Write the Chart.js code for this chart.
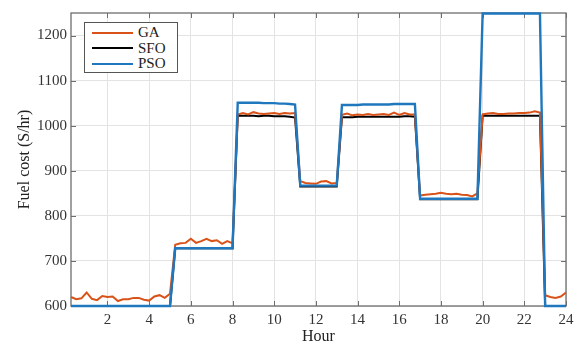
<!DOCTYPE html>
<html>
<head>
<meta charset="utf-8">
<script src="https://cdn.jsdelivr.net/npm/chart.js@4/dist/chart.umd.min.js"></script>
<style>
  body { margin: 0; background: #fff; }
  #wrap { position: relative; width: 586px; height: 347px; }
  #legend {
    position: absolute; left: 84px; top: 22px; width: 94px; height: 51px;
    border: 1px solid #555; background: #fff; box-sizing: border-box;
    font-family: "Liberation Serif", serif; font-size: 15px; color: #222;
    padding-top: 2px;
  }
  #legend .row { height: 15.5px; line-height: 15.5px; display: flex; align-items: center; }
  #legend .line { display: inline-block; width: 41px; height: 2px; margin-left: 7px; margin-right: 5px; }
</style>
</head>
<body>
<div id="wrap">
  <canvas id="fuelChart" width="586" height="347"></canvas>
  <div id="legend"></div>
</div>
<script>
// quarter-hour sampling, 0.25 .. 24
var hours = [];
for (var i = 1; i <= 96; i++) hours.push(i * 0.25);

var xTicks = [2, 4, 6, 8, 10, 12, 14, 16, 18, 20, 22, 24];
var yTicks = [600, 700, 800, 900, 1000, 1100, 1200];

var labels = ['GA', 'SFO', 'PSO'];
var colors = ['#D95319', '#000000', '#1f77bd'];

var gaCost = [
    620, 615, 617, 630, 616, 613, 622, 620, 621, 611, 615, 615, 618, 618, 614, 612, 621, 624, 618, 627,
    736, 739, 740, 749, 740, 744, 749, 744, 746, 738, 744, 739,
    1025, 1028, 1025, 1030, 1027, 1026, 1027, 1028, 1026, 1028, 1027, 1028,
    877, 873, 872, 871, 876, 877, 872, 873,
    1024, 1027, 1023, 1025, 1024, 1026, 1024, 1025, 1026, 1024, 1029, 1024, 1028, 1025, 1025,
    845, 847, 848, 849, 851, 849, 848, 849, 847, 846, 843, 850,
    1025, 1027, 1028, 1026, 1026, 1027, 1027, 1028, 1028, 1029, 1032, 1029,
    624, 620, 618, 621, 630
];
var sfoCost = [
    600, 600, 600, 600, 600, 600, 600, 600, 600, 600, 600, 600, 600, 600, 600, 600, 600, 600, 600, 600,
    728, 728, 728, 728, 728, 728, 728, 728, 728, 728, 728, 728,
    1022, 1022, 1022, 1022, 1021, 1022, 1022, 1021, 1021, 1021, 1020, 1018,
    865, 865, 865, 865, 865, 865, 865, 865,
    1019, 1019, 1019, 1020, 1020, 1020, 1020, 1020, 1020, 1020, 1020, 1020, 1021, 1021, 1020,
    837, 837, 837, 837, 837, 837, 837, 837, 837, 837, 837, 837,
    1022, 1022, 1022, 1022, 1022, 1022, 1022, 1022, 1022, 1022, 1022, 1022,
    600, 600, 600, 600, 600
];
var psoCost = [
    600, 600, 600, 600, 600, 600, 600, 600, 600, 600, 600, 600, 600, 600, 600, 600, 600, 600, 600, 600,
    728, 728, 728, 728, 728, 728, 728, 728, 728, 728, 728, 728,
    1051, 1051, 1051, 1051, 1051, 1050, 1050, 1050, 1049, 1049, 1048, 1047,
    867, 867, 867, 867, 867, 867, 867, 867,
    1046, 1046, 1046, 1046, 1047, 1047, 1047, 1047, 1047, 1047, 1048, 1048, 1048, 1048, 1048,
    838, 838, 838, 838, 838, 838, 838, 838, 838, 838, 838, 838,
    1249, 1249, 1249, 1249, 1249, 1249, 1249, 1249, 1249, 1249, 1249, 1249,
    600, 600, 600, 600, 600
];

var series = [gaCost, sfoCost, psoCost];
var serif = "'Liberation Serif', 'Times New Roman', serif";

function toPoints(values) {
    return values.map((v, k) => ({ x: hours[k], y: v }));
}

// box around the plot + inward tick marks like matlab
var boxPlugin = {
    id: 'boxPlugin',
    beforeDatasetsDraw(chart) {
        const { ctx, chartArea: a, scales } = chart;
        ctx.save();
        ctx.strokeStyle = '#6e6e6e';
        ctx.lineWidth = 1;
        ctx.beginPath();
        xTicks.forEach(t => {
            const px = Math.round(scales.x.getPixelForValue(t)) + 0.5;
            ctx.moveTo(px, a.bottom); ctx.lineTo(px, a.bottom - 5);
            ctx.moveTo(px, a.top); ctx.lineTo(px, a.top + 5);
        });
        yTicks.forEach(t => {
            const py = Math.round(scales.y.getPixelForValue(t)) + 0.5;
            ctx.moveTo(a.left, py); ctx.lineTo(a.left + 5, py);
            ctx.moveTo(a.right, py); ctx.lineTo(a.right - 5, py);
        });
        ctx.stroke();
        ctx.lineWidth = 1.3;
        ctx.strokeRect(a.left, a.top, a.right - a.left, a.bottom - a.top);
        ctx.restore();
    }
};

var ctx = document.getElementById('fuelChart').getContext('2d');
var fuelChart = new Chart(ctx, {
    type: 'line',
    data: {
        datasets: labels.map((lab, k) => ({
            label: lab,
            data: toPoints(series[k]),
            borderColor: colors[k],
            backgroundColor: colors[k],
            borderWidth: k === 2 ? 2.4 : 2,
            pointRadius: 0,
            tension: 0,
            clip: 4,
            order: k === 2 ? 0 : (k === 0 ? 1 : 2)
        }))
    },
    options: {
        responsive: false,
        animation: false,
        devicePixelRatio: 1,
        layout: { padding: { top: 7, right: 20, left: 0, bottom: 0 } },
        plugins: {
            legend: { display: false },
            tooltip: { enabled: false }
        },
        scales: {
            x: {
                type: 'linear',
                min: 0.25,
                max: 24,
                afterBuildTicks: (scale) => { scale.ticks = xTicks.map(v => ({ value: v })); },
                afterFit: (scale) => { scale.height = 41; },
                border: { display: false },
                grid: { color: '#e3e3e3', lineWidth: 1, drawTicks: false },
                ticks: { font: { family: serif, size: 15 }, color: '#333', padding: 5, maxRotation: 0, callback: v => String(v) },
                title: { display: true, text: 'Hour', font: { family: serif, size: 16 }, color: '#222', padding: { top: 0, bottom: 1 } }
            },
            y: {
                min: 600,
                max: 1250,
                afterBuildTicks: (scale) => { scale.ticks = yTicks.map(v => ({ value: v })); },
                afterFit: (scale) => { scale.width = 71; },
                border: { display: false },
                grid: { color: '#e3e3e3', lineWidth: 1, drawTicks: false },
                ticks: { font: { family: serif, size: 15 }, color: '#333', padding: 4, callback: v => String(v) },
                title: { display: true, text: 'Fuel cost (S/hr)', font: { family: serif, size: 16 }, color: '#222', padding: { top: 15, bottom: 0 } }
            }
        }
    },
    plugins: [boxPlugin]
});

// legend sits inside the axes, top-left
var legendBox = document.getElementById('legend');
labels.forEach((lab, k) => {
    var row = document.createElement('div');
    row.className = 'row';
    row.innerHTML = '<span class="line" style="background:' + colors[k] + '"></span><span>' + lab + '</span>';
    legendBox.appendChild(row);
});
</script>
</body>
</html>
